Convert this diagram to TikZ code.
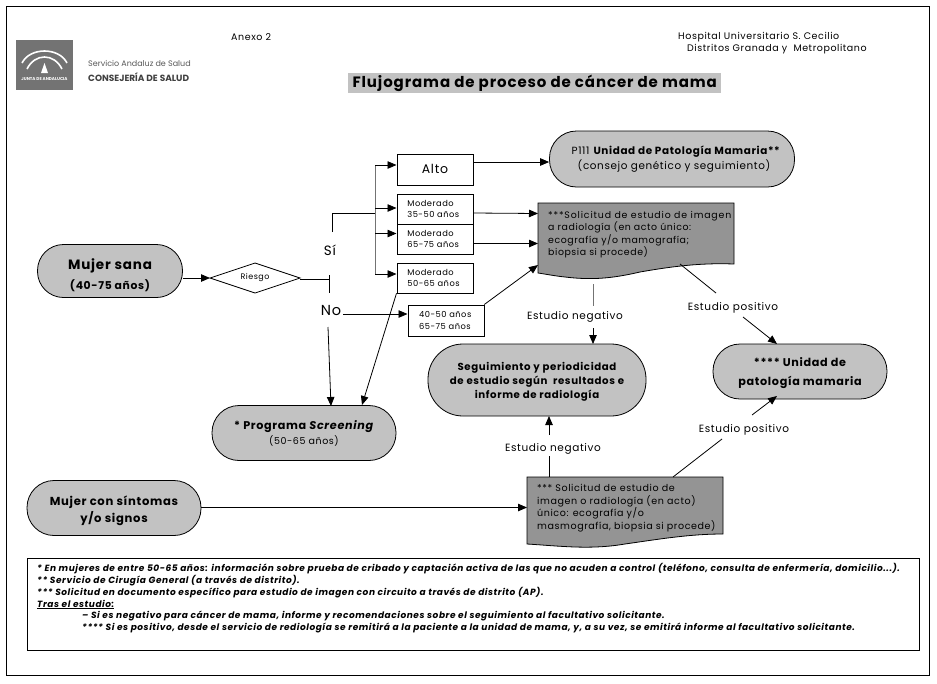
\documentclass[tikz,border=0pt]{standalone}
\usepackage{fontspec}
\setmainfont[LetterSpace=6]{Poppins}
\newfontfamily\plain{Poppins}
\usetikzlibrary{arrows.meta,shapes.misc}
\definecolor{gA}{gray}{0.76}
\definecolor{gB}{gray}{0.58}
\definecolor{gC}{gray}{0.45}
\tikzset{
 x=1pt,y=-1pt,
 pill/.style={draw=black,fill=gA,line width=.8pt,minimum width=#1,align=center,inner sep=0pt},
 pill/.default=100pt,
 bx/.style={draw=black,fill=white,line width=.8pt,align=left,inner sep=0pt},
 lab/.style={inner sep=0pt,font=\fontsize{10.5}{12}\selectfont,fill=none},
 arr/.style={-{Triangle[length=9pt,width=7.5pt]},line width=.8pt},
 ln/.style={line width=.8pt},
 hdr/.style={anchor=west,inner sep=0pt,font=\fontsize{9.5}{11}\selectfont},
 small/.style={font=\fontsize{8.3}{11.5}\selectfont},
}
\begin{document}
\begin{tikzpicture}
\useasboundingbox (0,0) rectangle (937,683);
\fill[white] (0,0) rectangle (937,683);
\node[draw=black,line width=.8pt,minimum width=923.5pt,minimum height=669.5pt,inner sep=0pt,anchor=north west] (frame) at (5.5,5.5) {};
% logo
\node[fill=gC,minimum width=57pt,minimum height=50pt,inner sep=0pt,anchor=north west] (logo) at (16,40) {};
\draw[white,line width=1.6pt] (22,63) .. controls (30,47) and (59,47) .. (67,63);
\draw[white,line width=1.6pt] (27,69) .. controls (35,53) and (54,53) .. (62,69);
\fill[white] (44.5,63) -- (41,73) -- (48,73) -- cycle;
\node[text=white,inner sep=0pt,font=\plain\fontsize{4.2}{5}\selectfont\bfseries] (junta) at (44.5,79) {JUNTA DE ANDALUCIA};
\node[anchor=west,inner sep=0pt,text=black!65,font=\plain\fontsize{8}{10}\selectfont] (sas) at (88,63.5) {Servicio Andaluz de Salud};
\node[anchor=west,inner sep=0pt,text=black!75,font=\plain\fontsize{9}{10}\selectfont\bfseries] (cons) at (88,77) {CONSEJERÍA DE SALUD};
% header
\node[hdr] (anexo) at (231,37) {Anexo 2};
\node[hdr] (h1) at (678,37) {Hospital Universitario S. Cecilio};
\node[hdr] (h2) at (687,49) {Distritos Granada y\ \ Metropolitano};
\node[fill=gA,minimum width=373pt,minimum height=20pt,inner sep=0pt,anchor=north west,font=\fontsize{15}{17}\selectfont\bfseries] (title) at (348,73) {Flujograma de proceso de cáncer de mama};
% pills
\node[pill=145pt,rounded corners=26pt,minimum height=53pt,font=\fontsize{13.5}{20}\selectfont\bfseries] (sana) at (110,271) {\rule{0pt}{18.5pt}Mujer sana\\{\fontsize{10.8}{20}\selectfont (40-75 años)}};
\node[pill=245pt,rounded corners=27pt,minimum height=56pt,font=\fontsize{10.4}{15}\selectfont] (p111) at (672,159) {\hspace{8pt}P111 \textbf{Unidad de Patología Mamaria**}\\\hspace{4pt}(consejo genético y seguimiento)};
\node[pill=218pt,rounded corners=35pt,minimum height=72pt,font=\fontsize{10.2}{14}\selectfont\bfseries] (seg) at (537,380) {\rule{0pt}{11pt}Seguimiento y periodicidad\\de estudio según\ \ resultados e\\informe de radiología};
\node[pill=174pt,rounded corners=27pt,minimum height=55pt,font=\fontsize{11.2}{19}\selectfont\bfseries] (upm) at (800,371.5) {\rule{0pt}{12pt}**** Unidad de\\patología mamaria};
\node[pill=184pt,rounded corners=27pt,minimum height=55pt,font=\fontsize{11.2}{15}\selectfont] (scr) at (304,433) {\textbf{* Programa \textit{Screening}}\\{\fontsize{9.5}{15}\selectfont (50-65 años)}};
\node[pill=174pt,rounded corners=27pt,minimum height=55pt,font=\fontsize{11.6}{17}\selectfont\bfseries] (sint) at (114,508) {\rule{0pt}{16pt}Mujer con síntomas\\y/o signos};
% diamond
\draw[fill=white,line width=.8pt] (210,278) -- (255,263) -- (300,278) -- (255,293) -- cycle;
\node[inner sep=0pt,font=\fontsize{8}{9}\selectfont] (riesgo) at (255,278) {Riesgo};
\coordinate (dl) at (210,278);
\coordinate (dr) at (300,279.5);
% boxes
\node[bx,minimum width=76pt,minimum height=31pt,anchor=north west,font=\fontsize{12.5}{14}\selectfont] (alto) at (396.5,153.5) {Alto};
\node[bx,minimum width=76pt,minimum height=30pt,anchor=north west,small] (m1) at (396.5,193.5) {\hspace{7pt}\parbox{62pt}{Moderado\\35-50 años}};
\node[bx,minimum width=76pt,minimum height=30pt,anchor=north west,small] (m2) at (396.5,223.5) {\hspace{7pt}\parbox{62pt}{Moderado\\65-75 años}};
\node[bx,minimum width=76pt,minimum height=30pt,anchor=north west,small] (m3) at (396.5,262.5) {\hspace{7pt}\parbox{62pt}{Moderado\\50-65 años}};
\node[bx,minimum width=76pt,minimum height=31pt,anchor=north west,small] (edad) at (407.5,304.5) {\hspace{6.5pt}\parbox{60pt}{40-50 años\\65-75 años}};
% documents
\draw[fill=gB,line width=.8pt] (538,203) -- (734,203) -- (734,264) .. controls (705,263) and (680,265) .. (640,272) .. controls (610,279) and (590,280) .. (565,277) .. controls (555,276) and (545,274) .. (538,273) -- cycle;
\node[anchor=north west,inner sep=0pt,font=\fontsize{9.4}{12.5}\selectfont,align=left] (doc1) at (548,211) {{\addfontfeature{LetterSpace=9}***Solicitud de estudio de imagen}\\a radiología (en acto único:\\ecografía y/o mamografía;\\biopsia si procede)};
\draw[fill=gB,line width=.8pt] (527,477) -- (723,477) -- (723,534) .. controls (690,534) and (660,539) .. (625,544) .. controls (590,550) and (560,546) .. (527,544) -- cycle;
\node[anchor=north west,inner sep=0pt,font=\fontsize{9.55}{12.4}\selectfont,align=left] (doc2) at (537,484.5) {*** Solicitud de estudio de\\imagen o radiología (en acto)\\único: ecografía y/o\\masmografía, biopsia si procede)};
\coordinate (d1a) at (538,213.5);
\coordinate (d1b) at (538,243.5);
\coordinate (d1c) at (538,265);
\coordinate (d1s) at (593,284);
\coordinate (d1e) at (680,264);
\coordinate (d2w) at (527,507.5);
\coordinate (d2n) at (549,477);
\coordinate (d2e) at (673,477);
% labels
\node[inner sep=0pt,font=\fontsize{13.5}{15}\selectfont] (si) at (330,250) {Sí};
\node[inner sep=0pt,font=\fontsize{14.5}{16}\selectfont] (no) at (331,310) {No};
\node[lab] (en1) at (575,317) {Estudio negativo};
\node[lab] (ep1) at (733,307.5) {Estudio positivo};
\node[lab] (en2) at (553,449) {Estudio negativo};
\node[lab] (ep2) at (744,429.5) {Estudio positivo};
% connectors
\draw[arr] (sana.east |- dl) -- (dl);
\draw[ln] (dr) -- (329,279.5);
\draw[ln] (329,275) -- (329,293);
\draw[ln] (332,232) -- (332,213) -- (375,213);
\draw[draw=black!55,line width=1pt] (375,165) -- (375,274);
\draw[arr] (375,165) -- (alto.west |- 0,165);
\draw[arr] (375,208) -- (m1.west |- 0,208);
\draw[arr] (375,233.5) -- (m2.west |- 0,233.5);
\draw[arr] (375,274) -- (m3.west |- 0,274);
\draw[arr] (alto.east |- 0,162) -- (p111.west |- 0,162);
\draw[arr] (m1.east |- 0,213) -- (d1a);
\draw[arr] (m2.east |- 0,243.5) -- (d1b);
\draw[arr] (343,314) -- (edad.west |- 0,314);
\draw[arr] (edad.north east) -- (d1c);
\draw[arr] (328,327) -- (331,406);
\draw[arr] (m3.south west) -- (362,405);
\draw[draw=black!55,line width=.8pt] (d1s) -- (593,306);
\draw[arr] (593,328) -- (593,344);
\draw[ln] (d1e) -- (716,293);
\draw[arr] (743,317) -- (777,344);
\draw[ln] (d2n) -- (549,456);
\draw[arr] (549,435) -- (549,416);
\draw[ln] (d2e) -- (722,439);
\draw[arr] (752,415) -- (777,396);
\draw[arr] (sint.east |- d2w) -- (d2w);
% notes
\node[draw=black,line width=.8pt,minimum width=892pt,minimum height=91.5pt,inner sep=0pt,anchor=north west] (notes) at (27,558) {};
\node[anchor=north west,inner sep=0pt,align=left,font=\fontsize{9}{11.7}\selectfont\itshape\bfseries] (ntext) at (37,563.5) {* En mujeres de entre 50-65 años: información sobre prueba de cribado y captación activa de las que no acuden a control (teléfono, consulta de enfermería, domicilio...).\\
** Servicio de Cirugía General (a través de distrito).\\
*** Solicitud en documento específico para estudio de imagen con circuito a través de distrito (AP).\\
\underline{Tras el estudio:}\\
\hspace{45pt}– Si es negativo para cáncer de mama, informe y recomendaciones sobre el seguimiento al facultativo solicitante.\\
\hspace{45pt}**** Si es positivo, desde el servicio de rediología se remitirá a la paciente a la unidad de mama, y, a su vez, se emitirá informe al facultativo solicitante.};
\end{tikzpicture}
\end{document}
